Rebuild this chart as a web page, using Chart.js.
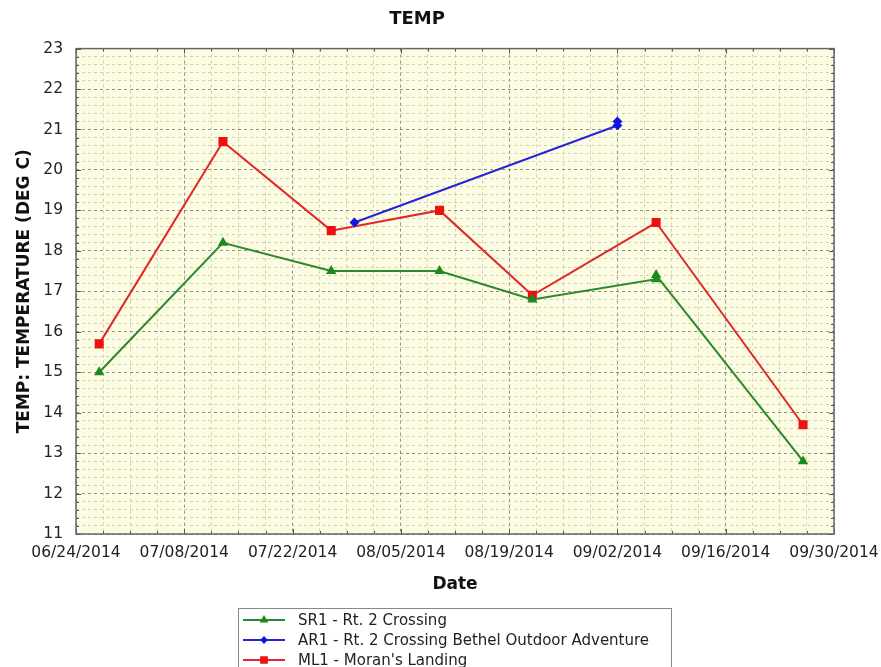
<!DOCTYPE html>
<html>
<head>
<meta charset="utf-8">
<title>TEMP</title>
<script src="https://cdn.jsdelivr.net/npm/chart.js"></script>
<style>
  body { margin: 0; background: #fff; }
  #wrap { width: 881px; height: 667px; }
</style>
</head>
<body>
<div id="wrap"><canvas id="myChart" width="881" height="667"></canvas></div>
<script>
// data
const sr1Dates = ['06/27/2014', '07/13/2014', '07/27/2014', '08/10/2014', '08/22/2014', '09/07/2014', '09/07/2014', '09/26/2014'];
const sr1Temps = [15.0, 18.2, 17.5, 17.5, 16.8, 17.3, 17.4, 12.8];

const ar1Dates = ['07/30/2014', '09/02/2014', '09/02/2014'];
const ar1Temps = [18.7, 21.1, 21.2];

const ml1Dates = ['06/27/2014', '07/13/2014', '07/27/2014', '08/10/2014', '08/22/2014', '09/07/2014', '09/26/2014'];
const ml1Temps = [15.7, 20.7, 18.5, 19.0, 16.9, 18.7, 13.7];

const seriesNames = ['SR1 - Rt. 2 Crossing', 'AR1 - Rt. 2 Crossing Bethel Outdoor Adventure', "ML1 - Moran's Landing"];
const startDate = '06/24/2014';
const endDate = '09/30/2014';
const yMin = 11, yMax = 23;

function dayOf(s) {
  const [m, d, y] = s.split('/').map(Number);
  const [m0, d0, y0] = startDate.split('/').map(Number);
  return Math.round((Date.UTC(y, m - 1, d) - Date.UTC(y0, m0 - 1, d0)) / 86400000);
}
function dateLabel(v) {
  const [m0, d0, y0] = startDate.split('/').map(Number);
  const dt = new Date(Date.UTC(y0, m0 - 1, d0 + v));
  const mm = String(dt.getUTCMonth() + 1).padStart(2, '0');
  const dd = String(dt.getUTCDate()).padStart(2, '0');
  return mm + '/' + dd + '/' + dt.getUTCFullYear();
}
function points(dates, temps) {
  return dates.map((d, i) => ({ x: dayOf(d), y: temps[i] }));
}

const FONT = "'DejaVu Sans', sans-serif";
const isWhole = v => Math.abs(v - Math.round(v)) < 1e-6;

// background, frame, small inner ticks and the boxed legend
const chartDecor = {
  id: 'chartDecor',
  beforeDraw(chart) {
    const { ctx, chartArea: a } = chart;
    ctx.save();
    ctx.fillStyle = '#fcfce3';
    ctx.fillRect(a.left, a.top, a.right - a.left, a.bottom - a.top);
    ctx.restore();
  },
  afterDraw(chart) {
    const { ctx, chartArea: a } = chart;
    const xs = chart.scales.x, ys = chart.scales.y;
    ctx.save();
    ctx.strokeStyle = '#555';
    ctx.lineWidth = 1;
    ctx.beginPath();
    xs.ticks.forEach(t => {
      const px = Math.round(xs.getPixelForValue(t.value)) + 0.5;
      const len = t.value % 14 === 0 ? 5 : 3;
      ctx.moveTo(px, a.bottom); ctx.lineTo(px, a.bottom - len);
      ctx.moveTo(px, a.top); ctx.lineTo(px, a.top + len);
    });
    ys.ticks.forEach(t => {
      const py = Math.round(ys.getPixelForValue(t.value)) + 0.5;
      const len = isWhole(t.value) ? 5 : 3;
      ctx.moveTo(a.left, py); ctx.lineTo(a.left + len, py);
      ctx.moveTo(a.right, py); ctx.lineTo(a.right - len, py);
    });
    ctx.stroke();
    ctx.strokeStyle = '#666';
    ctx.lineWidth = 1.5;
    ctx.strokeRect(a.left, a.top, a.right - a.left, a.bottom - a.top);

    // legend
    ctx.strokeStyle = '#888';
    ctx.lineWidth = 1;
    ctx.strokeRect(238.5, 608.5, 433, 80);
    ctx.font = '15px ' + FONT;
    ctx.textBaseline = 'middle';
    ctx.fillStyle = '#222';
    chart.data.datasets.forEach((ds, i) => {
      const y = 620 + i * 20;
      ctx.strokeStyle = ds.borderColor;
      ctx.lineWidth = 2;
      ctx.beginPath();
      ctx.moveTo(243, y); ctx.lineTo(285, y);
      ctx.stroke();
      ctx.fillStyle = ds.pointBackgroundColor;
      ctx.strokeStyle = ds.pointBackgroundColor;
      Chart.helpers.drawPoint(ctx, { pointStyle: ds.pointStyle, radius: ds.pointRadius - 1, rotation: 0, borderWidth: 1 }, 264, y);
      ctx.fillStyle = '#222';
      ctx.fillText(ds.label, 298, y + 1);
    });
    ctx.restore();
  }
};

const myChart = new Chart(document.getElementById('myChart'), {
  type: 'line',
  data: {
    datasets: [{
      label: seriesNames[0],
      data: points(sr1Dates, sr1Temps),
      borderColor: '#2a8a2a',
      borderWidth: 2,
      pointStyle: 'triangle',
      pointRadius: 4,
      pointBackgroundColor: '#1d8a1d',
      pointBorderColor: '#1d8a1d',
      tension: 0
    }, {
      label: seriesNames[1],
      data: points(ar1Dates, ar1Temps),
      borderColor: '#2424d8',
      borderWidth: 2,
      pointStyle: 'rectRot',
      pointRadius: 3.5,
      pointBackgroundColor: '#1414e0',
      pointBorderColor: '#1414e0',
      tension: 0
    }, {
      label: seriesNames[2],
      data: points(ml1Dates, ml1Temps),
      borderColor: '#e02828',
      borderWidth: 2,
      pointStyle: 'rect',
      pointRadius: 5,
      pointBackgroundColor: '#f01010',
      pointBorderColor: '#f01010',
      tension: 0
    }]
  },
  options: {
    responsive: false,
    animation: false,
    layout: { padding: { left: 0, right: 47, top: 0, bottom: 67 } },
    plugins: {
      legend: { display: false },
      tooltip: { enabled: false },
      title: {
        display: true,
        text: 'TEMP',
        color: '#111',
        font: { family: FONT, size: 18, weight: 'bold' },
        padding: { top: 9, bottom: 18 }
      }
    },
    scales: {
      x: {
        type: 'linear',
        min: 0,
        max: dayOf(endDate),
        afterFit(s) { s.height = 66; s.paddingLeft = 0; s.paddingRight = 0; },
        border: { display: false, dash: [3, 3] },
        grid: {
          drawTicks: false,
          lineWidth: 1,
          color: c => (c.tick && c.tick.value % 14 === 0) ? 'rgba(110,110,100,0.75)' : 'rgba(190,190,160,0.7)'
        },
        ticks: {
          stepSize: 3.5,
          autoSkip: false,
          maxRotation: 0,
          minRotation: 0,
          padding: 10,
          color: '#222',
          font: { family: FONT, size: 15.5 },
          callback: v => v % 14 === 0 ? dateLabel(v) : ''
        },
        title: {
          display: true,
          text: 'Date',
          color: '#111',
          font: { family: FONT, size: 17, weight: 'bold' },
          padding: { top: 0, bottom: 5 }
        }
      },
      y: {
        min: yMin,
        max: yMax,
        afterFit(s) { s.width = 76; },
        border: { display: false, dash: [3, 3] },
        grid: {
          drawTicks: false,
          lineWidth: 1,
          color: c => (c.tick && isWhole(c.tick.value)) ? 'rgba(110,110,100,0.75)' : 'rgba(190,190,160,0.7)'
        },
        ticks: {
          stepSize: 0.2,
          autoSkip: false,
          padding: 13,
          color: '#222',
          font: { family: FONT, size: 15.5 },
          callback: v => isWhole(v) ? String(Math.round(v)) : ''
        },
        title: {
          display: true,
          text: 'TEMP: TEMPERATURE (DEG C)',
          color: '#111',
          font: { family: FONT, size: 17, weight: 'bold' },
          padding: { top: 14, bottom: 0 }
        }
      }
    }
  },
  plugins: [chartDecor]
});
</script>
</body>
</html>
